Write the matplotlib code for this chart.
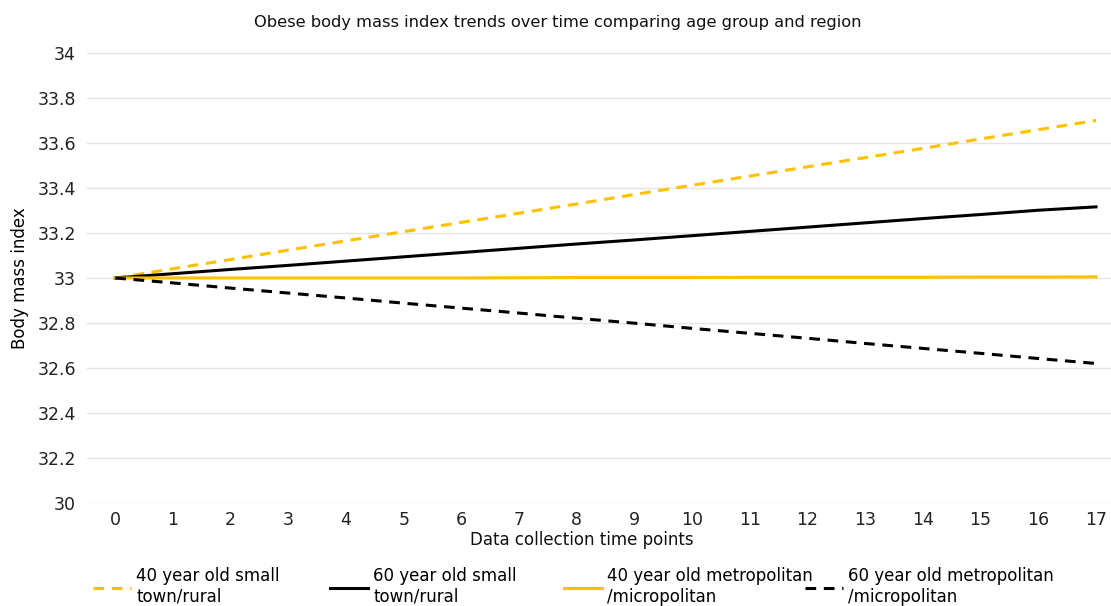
import numpy as np
import matplotlib.pyplot as plt

# data
time_points = list(range(18))
small40 = [33.000, 33.041, 33.082, 33.124, 33.165, 33.206, 33.247, 33.288, 33.329,
           33.371, 33.412, 33.453, 33.494, 33.535, 33.576, 33.618, 33.659, 33.700]
small60 = [33.000, 33.019, 33.038, 33.056, 33.075, 33.094, 33.113, 33.132, 33.151,
           33.169, 33.188, 33.207, 33.226, 33.245, 33.264, 33.282, 33.301, 33.316]
metro40 = [33.000, 33.000, 33.000, 33.000, 33.000, 33.000, 33.000, 33.001, 33.002,
           33.002, 33.002, 33.003, 33.003, 33.003, 33.003, 33.004, 33.004, 33.005]
metro60 = [33.000, 32.978, 32.955, 32.933, 32.911, 32.888, 32.866, 32.844, 32.821,
           32.799, 32.776, 32.754, 32.732, 32.709, 32.687, 32.665, 32.642, 32.620]

labels = ["40 year old small\ntown/rural", "60 year old small\ntown/rural",
          "40 year old metropolitan\n/micropolitan", "60 year old metropolitan\n/micropolitan"]

# y axis is broken in the original: bottom tick reads 30
ytick_vals = [32.0, 32.2, 32.4, 32.6, 32.8, 33.0, 33.2, 33.4, 33.6, 33.8, 34.0]
ytick_labels = ["30", "32.2", "32.4", "32.6", "32.8", "33", "33.2", "33.4", "33.6", "33.8", "34"]

yellow = "#ffc000"
black = "#000000"
dash = (0, (3.5, 2.5))

plt.rcParams['font.family'] = ['DejaVu Sans']
fig = plt.figure(figsize=(11.11, 6.06), dpi=100)
ax = fig.add_axes([0.0783, 0.170, 0.9217, 0.7426])

l1, = ax.plot(time_points, small40, color=yellow, lw=2.2, ls=dash)
l2, = ax.plot(time_points, small60, color=black, lw=2.2)
l3, = ax.plot(time_points, metro40, color=yellow, lw=2.2)
l4, = ax.plot(time_points, metro60, color=black, lw=2.2, ls=dash)

ax.set_ylim(32.0, 34.0)
ax.set_xlim(-0.49, 17.26)
ax.set_yticks(ytick_vals)
ax.set_yticklabels(ytick_labels)
ax.set_xticks(time_points)
ax.grid(axis='y', color='#e4e4e4', lw=1)
ax.set_axisbelow(True)
for s in ax.spines.values():
    s.set_visible(False)
ax.tick_params(length=0, labelsize=12.5, colors='#222222')
ax.tick_params(axis='x', pad=6)
ax.tick_params(axis='y', pad=8)

fig.text(582 / 1111, 1 - 540 / 606, "Data collection time points", fontsize=12,
         ha='center', va='center', color='#111111')
ax.set_ylabel("Body mass index", fontsize=12, labelpad=6)
fig.text(558 / 1111, 1 - 22 / 606,
         "Obese body mass index trends over time comparing age group and region",
         fontsize=11.7, ha='center', va='center', color='#111111')

# legend entries spread along the bottom
xs = [93, 330, 564, 805]
for line, lab, x in zip([l1, l2, l3, l4], labels, xs):
    fig.legend([line], [lab], loc='upper left', bbox_to_anchor=(x / 1111, 1 - 567 / 606),
               frameon=False, fontsize=12, handlelength=2.3, handletextpad=0.3,
               borderaxespad=0, borderpad=0, labelspacing=0)

fig.savefig("out.png", dpi=100)
